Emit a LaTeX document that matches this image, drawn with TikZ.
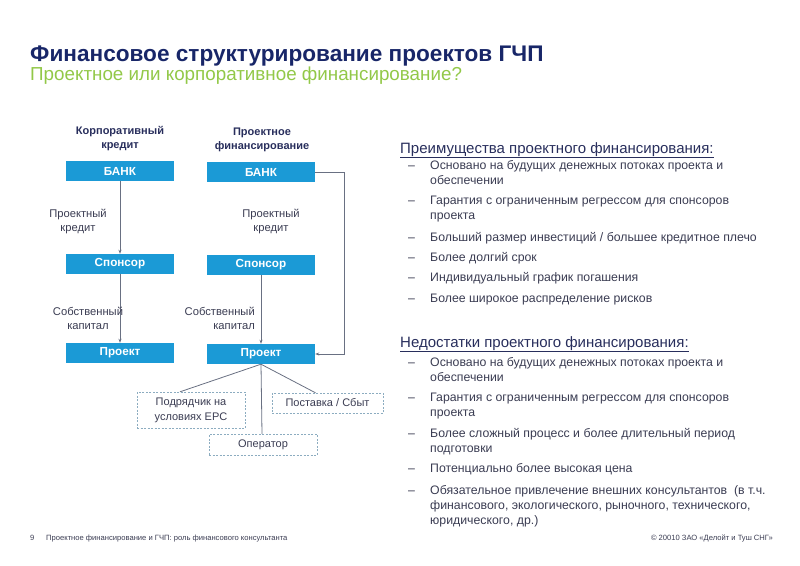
\documentclass[tikz,border=0pt]{standalone}
\usepackage{fontspec}
\setmainfont{Liberation Sans}
\usetikzlibrary{arrows.meta}

\definecolor{titlenavy}{RGB}{24,38,104}
\definecolor{subgreen}{RGB}{146,200,72}
\definecolor{boxblue}{RGB}{27,154,214}
\definecolor{bodytext}{RGB}{58,60,82}
\definecolor{headtext}{RGB}{40,46,92}
\definecolor{linegrey}{RGB}{105,112,130}
\definecolor{dashgrey}{RGB}{140,172,192}

\newcommand*{\colL}{120}
\newcommand*{\colR}{261}
\newcommand*{\dashx}{408}
\newcommand*{\textx}{430}

\begin{document}
\begin{tikzpicture}[x=1pt,y=-1pt,
	bluebox/.style={fill=boxblue,text=white,font=\bfseries\fontsize{11.7}{13}\selectfont,
		minimum width=108pt,minimum height=20pt,inner sep=0pt},
	dashbox/.style={draw=dashgrey,dash pattern=on 2pt off 1.5pt,text=bodytext,
		font=\fontsize{11}{15}\selectfont,align=center,inner sep=0pt},
	link/.style={draw=linegrey,line width=0.8pt},
	tip/.style={-{Stealth[length=4pt,width=3pt]}},
	lbl/.style={text=bodytext,font=\fontsize{11.2}{14}\selectfont,inner sep=0pt},
	colhead/.style={text=headtext,font=\bfseries\fontsize{11}{14}\selectfont,align=center,inner sep=0pt},
	body/.style={text=bodytext,font=\fontsize{12.3}{14}\selectfont,anchor=base west,inner sep=0pt},
	listhead/.style={text=headtext,font=\fontsize{15}{17}\selectfont,anchor=base west,inner sep=0pt},
	foot/.style={text=bodytext,font=\fontsize{7.6}{9}\selectfont,inner sep=0pt}]

	\useasboundingbox (0,0) rectangle (800,565);

	% title
	\node[anchor=base west,inner sep=0pt,text=titlenavy,font=\bfseries\fontsize{22.6}{26}\selectfont]
		(title) at (30,61) {Финансовое структурирование проектов ГЧП};
	\node[anchor=base west,inner sep=0pt,text=subgreen,font=\fontsize{18.8}{22}\selectfont]
		(subtitle) at (30,80) {Проектное или корпоративное финансирование?};

	% column heads
	\node[colhead] (headL) at (\colL,139) {Корпоративный\\кредит};
	\node[colhead] (headR) at (262,140) {Проектное\\финансирование};

	% boxes
	\node[bluebox] (bankL) at (\colL,171) {БАНК};
	\node[bluebox] (sponL) at (\colL,264) {Спонсор};
	\node[bluebox] (proL) at (\colL,353) {Проект};
	\node[bluebox] (bankR) at (\colR,172) {БАНК};
	\node[bluebox] (sponR) at (\colR,265) {Спонсор};
	\node[bluebox] (proR) at (\colR,354) {Проект};

	\node[dashbox,minimum width=108pt,minimum height=36pt] (epc) at (191,410) {Подрядчик на\\условиях EPC};
	\node[dashbox,minimum width=111pt,minimum height=20pt] (supply) at (327.5,403) {Поставка / Сбыт};
	\node[dashbox,minimum width=108pt,minimum height=21pt] (oper) at (263,444.5) {Оператор};

	% connectors
	\draw[link,tip] (bankL) -- (sponL);
	\draw[link,tip] (sponL) -- (proL);
	\draw[link,tip] (sponR) -- (proR);
	\draw[link,tip] (bankR.east) -- ++(29,0) |- (proR.east);
	\draw[link] (proR.south) -- ([xshift=-11pt]epc.north);
	\draw[link] (proR.south) -- ([xshift=-12pt]supply.north);
	\draw[link] (proR.south) -- ([xshift=-1pt]oper.north);

	% flow labels
	\node[lbl,align=center] (credL) at (78,221.5) {Проектный\\кредит};
	\node[lbl,align=center] (credR) at (271,221.5) {Проектный\\кредит};
	\node[lbl,align=center] (eqL) at (88,318) {Собственный\\капитал};
	\node[lbl,align=right,anchor=east] (eqR) at (255,318) {Собственный\\капитал};

	% advantages
	\node[listhead] (advhead) at (400,153) {\underline{Преимущества проектного финансирования:}};
	\foreach \yy in {169,204,241,261,281,302}
		\node[body] (advdash-\yy) at (\dashx,\yy) {–};
	\foreach \yy/\txt in {169/{Основано на будущих денежных потоках проекта и},
			184/{обеспечении},
			204/{Гарантия с ограниченным регрессом для спонсоров},
			219/{проекта},
			241/{Больший размер инвестиций / большее кредитное плечо},
			261/{Более долгий срок},
			281/{Индивидуальный график погашения},
			302/{Более широкое распределение рисков}}
		\node[body] (adv-\yy) at (\textx,\yy) {\txt};

	% disadvantages
	\node[listhead] (dishead) at (400,347) {\underline{Недостатки проектного финансирования:}};
	\foreach \yy in {366,401,437,472,494}
		\node[body] (disdash-\yy) at (\dashx,\yy) {–};
	\foreach \yy/\txt in {366/{Основано на будущих денежных потоках проекта и},
			381/{обеспечении},
			401/{Гарантия с ограниченным регрессом для спонсоров},
			416/{проекта},
			437/{Более сложный процесс и более длительный период},
			452/{подготовки},
			472/{Потенциально более высокая цена},
			494/{Обязательное привлечение внешних консультантов~ (в т.ч.},
			509/{финансового, экологического, рыночного, технического,},
			524/{юридического, др.)}}
		\node[body] (dis-\yy) at (\textx,\yy) {\txt};

	% footer
	\node[foot,anchor=base west] (pagenum) at (30,540) {9};
	\node[foot,anchor=base west] (foottext) at (46,540) {Проектное финансирование и ГЧП: роль финансового консультанта};
	\node[foot,anchor=base east] (copy) at (773,540) {© 20010 ЗАО «Делойт и Туш СНГ»};

\end{tikzpicture}
\end{document}
